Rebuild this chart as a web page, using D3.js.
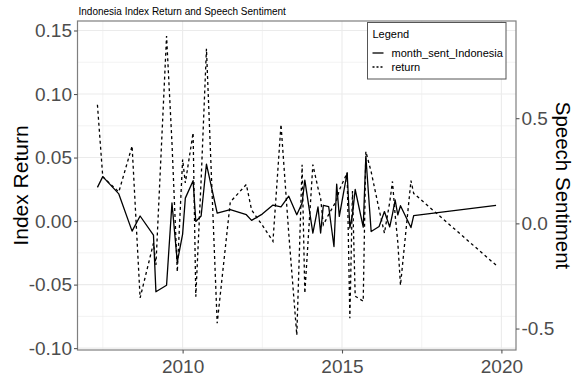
<!DOCTYPE html>
<html>
<head>
<meta charset="utf-8">
<script src="https://cdn.jsdelivr.net/npm/d3@7/dist/d3.min.js"></script>
<style>
  html, body { margin: 0; padding: 0; background: #ffffff; }
  svg { display: block; font-family: "Liberation Sans", Arial, sans-serif; }
</style>
</head>
<body>
<svg id="chart" width="575" height="378"></svg>
<script>
// Monthly observations: index return and speech sentiment
const months = [
  "2007-05","2007-07","2008-01","2008-06","2008-09","2009-02","2009-03","2009-07",
  "2009-09","2009-11","2010-01","2010-02","2010-05","2010-06","2010-08","2010-10",
  "2011-02","2011-07","2012-01","2012-03","2012-07","2012-11","2013-02","2013-05",
  "2013-08","2013-10","2013-11","2014-02","2014-04","2014-05","2014-06","2014-08",
  "2014-10","2014-11","2014-12","2015-03","2015-04","2015-05","2015-06","2015-09",
  "2015-10","2015-12","2016-03","2016-05","2016-07","2016-08","2016-09","2016-10",
  "2016-11","2017-03","2017-04","2019-11"
];
const indexReturn = [
  0.0915, 0.0349, 0.0229, 0.0591, -0.0605, -0.0174, -0.0345, 0.1457,
  0.0615, -0.0400, 0.0485, 0.0300, 0.0694, -0.0595, 0.0323, 0.1356,
  -0.0804, 0.0150, 0.0288, 0.0087, -0.0032, -0.0160, 0.0761, -0.0099,
  -0.0897, 0.0444, -0.0568, 0.0444, 0.0260, 0.0181, -0.0029, 0.0051,
  0.0126, 0.0166, 0.0244, 0.0379, -0.0765, 0.0237, -0.0591, -0.0631,
  0.0548, 0.0388, 0.0091, -0.0095, 0.0150, 0.0312, 0.0047, -0.0166,
  -0.0505, 0.0319, 0.0218, -0.0347
];
const monthSentIndonesia = [
  0.171, 0.222, 0.140, -0.037, 0.035, -0.056, -0.325, -0.294,
  0.097, -0.184, -0.051, 0.120, 0.203, 0.009, 0.035, 0.282,
  0.049, 0.065, 0.041, 0.014, 0.044, 0.087, 0.078, 0.129,
  0.041, 0.097, 0.206, -0.046, 0.078, -0.046, 0.086, 0.080,
  -0.110, 0.187, 0.033, 0.241, -0.022, 0.041, 0.161, -0.018,
  0.319, -0.039, -0.015, 0.056, -0.017, 0.044, 0.111, 0.040,
  0.084, -0.020, 0.037, 0.086
];
const xTickYears = [2010, 2015, 2020];
const xMinorYears = [2007.5, 2012.5, 2017.5];
const leftTicks = [-0.10, -0.05, 0.00, 0.05, 0.10, 0.15];
const rightTicks = [-0.5, 0.0, 0.5];

// secondary axis: sentiment = (return + shift) * factor
const secFactor = 6.04;
const secShift = 0.0018;

const W = 575, H = 378;
const panel = { left: 77.5, right: 516, top: 21, bottom: 350 };

const parse = d3.timeParse("%Y-%m");
const rows = months.map((m, i) => ({
  date: parse(m), ret: indexReturn[i], sent: monthSentIndonesia[i]
}));

// ggplot-style 5% expansion on both axes
function expand(lo, hi, f = 0.05) { const d = (hi - lo) * f; return [lo - d, hi + d]; }

const tExt = d3.extent(rows, d => +d.date);
const tDom = expand(tExt[0], tExt[1]);
const x = d3.scaleTime().domain(tDom.map(t => new Date(t))).range([panel.left, panel.right]);

const rExt = d3.extent(rows, d => d.ret);
const y = d3.scaleLinear().domain(expand(rExt[0], rExt[1])).range([panel.bottom, panel.top]);
const ySent = d3.scaleLinear()
  .domain(y.domain().map(v => (v + secShift) * secFactor))
  .range([panel.bottom, panel.top]);

const yearDate = yr => {
  const whole = Math.floor(yr);
  const d = new Date(whole, 0, 1);
  return new Date(+d + (yr - whole) * (new Date(whole + 1, 0, 1) - d));
};

const svg = d3.select("#chart");
svg.append("rect").attr("width", W).attr("height", H).attr("fill", "#ffffff");

// grid
const grid = svg.append("g");
const yMinor = d3.range(leftTicks.length - 1).map(i => (leftTicks[i] + leftTicks[i + 1]) / 2);
grid.selectAll(".ymin").data(yMinor).join("line")
  .attr("x1", panel.left).attr("x2", panel.right)
  .attr("y1", d => y(d)).attr("y2", d => y(d))
  .attr("stroke", "#ebebeb").attr("stroke-width", 0.6);
grid.selectAll(".xmin").data(xMinorYears).join("line")
  .attr("y1", panel.top).attr("y2", panel.bottom)
  .attr("x1", d => x(yearDate(d))).attr("x2", d => x(yearDate(d)))
  .attr("stroke", "#ebebeb").attr("stroke-width", 0.6);
grid.selectAll(".ymaj").data(leftTicks).join("line")
  .attr("x1", panel.left).attr("x2", panel.right)
  .attr("y1", d => y(d)).attr("y2", d => y(d))
  .attr("stroke", "#ebebeb").attr("stroke-width", 1.1);
grid.selectAll(".xmaj").data(xTickYears).join("line")
  .attr("y1", panel.top).attr("y2", panel.bottom)
  .attr("x1", d => x(yearDate(d))).attr("x2", d => x(yearDate(d)))
  .attr("stroke", "#ebebeb").attr("stroke-width", 1.1);

// series
const retLine = d3.line().x(d => x(d.date)).y(d => y(d.ret));
const sentLine = d3.line().x(d => x(d.date)).y(d => ySent(d.sent));

svg.append("path").datum(rows).attr("d", sentLine)
  .attr("fill", "none").attr("stroke", "#000").attr("stroke-width", 1.3)
  .attr("stroke-linejoin", "round");
svg.append("path").datum(rows).attr("d", retLine)
  .attr("fill", "none").attr("stroke", "#000").attr("stroke-width", 1.3)
  .attr("stroke-dasharray", "3,3");

// panel border
svg.append("rect")
  .attr("x", panel.left).attr("y", panel.top)
  .attr("width", panel.right - panel.left).attr("height", panel.bottom - panel.top)
  .attr("fill", "none").attr("stroke", "#7f7f7f").attr("stroke-width", 1.2);

// axes
const tickCol = "#555555", textCol = "#4d4d4d";
const fmt2 = v => (v < 0 ? "-" : "") + Math.abs(v).toFixed(2);
const fmt1 = v => (v < 0 ? "-" : "") + Math.abs(v).toFixed(1);

const axL = svg.append("g").attr("transform", `translate(${panel.left},0)`)
  .call(d3.axisLeft(y).tickValues(leftTicks).tickFormat(fmt2).tickSizeOuter(0).tickSize(3.5).tickPadding(2));
const axR = svg.append("g").attr("transform", `translate(${panel.right},0)`)
  .call(d3.axisRight(ySent).tickValues(rightTicks).tickFormat(fmt1).tickSizeOuter(0).tickSize(3.5).tickPadding(2));
const axB = svg.append("g").attr("transform", `translate(0,${panel.bottom})`)
  .call(d3.axisBottom(x).tickValues(xTickYears.map(yearDate)).tickFormat(d3.timeFormat("%Y")).tickSizeOuter(0).tickSize(3.5).tickPadding(2));

[axL, axR, axB].forEach(g => {
  g.select(".domain").remove();
  g.selectAll(".tick line").attr("stroke", tickCol).attr("stroke-width", 1.1);
  g.selectAll(".tick text").attr("fill", textCol)
    .style("font-family", '"Liberation Sans", Arial, sans-serif').style("font-size", "19px");
});
axB.selectAll(".tick text").attr("dy", "0.9em");

// titles
svg.append("text").attr("x", panel.left + 1).attr("y", 15)
  .attr("font-size", 10).attr("fill", "#000")
  .text("Indonesia Index Return and Speech Sentiment");

svg.append("text")
  .attr("transform", `translate(28,${(panel.top + panel.bottom) / 2}) rotate(-90)`)
  .attr("text-anchor", "middle").attr("font-size", 21).attr("fill", "#000")
  .text("Index Return");

svg.append("text")
  .attr("transform", `translate(556,${(panel.top + panel.bottom) / 2}) rotate(90)`)
  .attr("text-anchor", "middle").attr("font-size", 20.5).attr("fill", "#000")
  .text("Speech Sentiment");

// legend
const lg = svg.append("g").attr("transform", "translate(367.5,22.5)");
lg.append("rect").attr("width", 138.5).attr("height", 56.5)
  .attr("fill", "#ffffff").attr("stroke", "#555555").attr("stroke-width", 1);
lg.append("text").attr("x", 5).attr("y", 15.5).attr("font-size", 11).attr("fill", "#000").text("Legend");
const keys = [
  { label: "month_sent_Indonesia", dash: null },
  { label: "return", dash: "2,2" }
];
keys.forEach((k, i) => {
  const cy = 30.5 + i * 14;
  lg.append("line").attr("x1", 5).attr("x2", 16).attr("y1", cy).attr("y2", cy)
    .attr("stroke", "#000").attr("stroke-width", 1.3)
    .attr("stroke-dasharray", k.dash);
  lg.append("text").attr("x", 24).attr("y", cy + 4).attr("font-size", 11).attr("fill", "#000").text(k.label);
});
</script>
</body>
</html>
